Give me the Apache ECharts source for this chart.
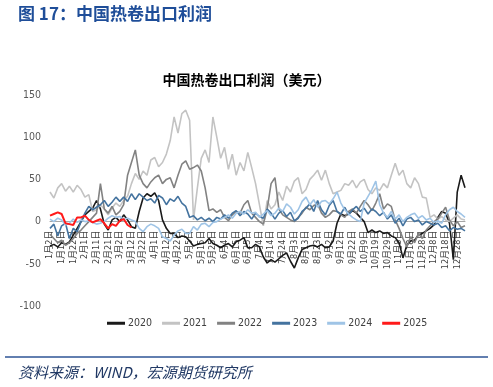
<!DOCTYPE html>
<html><head><meta charset="utf-8">
<script src="https://cdn.jsdelivr.net/npm/echarts@6/dist/echarts.min.js"></script>
<style>html,body{margin:0;padding:0;background:#fff}#c{width:493px;height:387px}</style>
</head><body><div id="c"></div>
<script>
const categories = [
"1月2日","1月5日","1月8日","1月11日","1月15日","1月18日","1月22日","1月25日","1月28日",
"2月1日","2月4日","2月8日","2月11日","2月14日","2月18日","2月21日","2月24日","2月27日",
"3月2日","3月5日","3月9日","3月12日","3月15日","3月19日","3月22日","3月25日","3月29日",
"4月1日","4月5日","4月8日","4月12日","4月15日","4月19日","4月22日","4月25日","4月29日",
"5月5日","5月8日","5月12日","5月15日","5月18日","5月22日","5月25日","5月28日","6月1日",
"6月4日","6月8日","6月11日","6月15日","6月18日","6月21日","6月25日","6月28日","7月1日",
"7月4日","7月7日","7月11日","7月14日","7月17日","7月21日","7月24日","7月27日","7月31日",
"8月3日","8月6日","8月10日","8月13日","8月16日","8月20日","8月23日","8月26日","8月30日",
"9月2日","9月5日","9月9日","9月12日","9月15日","9月19日","9月22日","9月26日","9月30日",
"10月9日","10月12日","10月16日","10月19日","10月22日","10月26日","10月29日","11月1日","11月5日",
"11月8日","11月11日","11月15日","11月18日","11月21日","11月25日","11月28日","12月1日","12月5日",
"12月8日","12月11日","12月15日","12月18日","12月21日","12月25日","12月28日","12月29日","12月31日"];

const y2020 = [-29,-27,-30,-25,-27,-24,-16,-8,0,8,12,16,25,15,-3,-10,2,5,0,8,2,-6,-8,12,28,33,30,34,25,2,-8,-14,-14,-19,-17,-18,-23,-29,-27,-26,-25,-20,-26,-28,-31,-28,-26,-30,-24,-22,-19,-31,-31,-27,-30,-42,-49,-45,-48,-44,-40,-37,-47,-55,-43,-33,-31,-29,-28,-30,-27,-31,-30,-23,-2,9,7,9,13,10,5,0,-13,-10,-13,-11,-14,-13,-17,-19,-25,-43,-28,-23,-22,-16,-14,-11,-8,-4,5,12,10,-2,-45,35,55,40];
const y2021 = [35,28,40,45,36,42,35,43,38,29,32,12,14,20,15,8,16,22,18,25,30,45,57,50,60,55,73,76,65,70,80,96,124,105,128,132,120,2,40,75,85,70,124,100,75,88,62,80,55,70,60,82,64,45,20,-5,25,15,20,35,25,42,35,48,52,33,38,50,55,61,49,61,45,33,35,37,45,43,49,40,47,50,38,33,40,37,45,40,55,69,55,61,45,40,52,45,29,28,5,8,3,6,2,0,4,8,3,2];
const y2022 = [-15,-20,-25,-22,-28,-25,-20,-14,-10,-5,0,5,10,45,15,10,18,8,12,20,55,70,85,55,45,40,47,52,55,45,50,52,40,55,68,72,62,64,67,60,40,13,15,11,14,5,1,8,12,10,20,25,10,5,0,-3,15,45,52,15,8,5,2,0,5,10,17,14,19,21,10,5,8,13,12,8,5,12,15,10,18,25,20,13,22,33,15,21,18,2,-8,-20,-30,-18,-25,-14,-20,-10,-5,0,3,10,17,2,-5,0,-7,-5];
const y2023 = [-8,-3,-17,-5,-2,-20,-8,-12,0,10,18,14,17,20,25,18,23,29,24,29,24,33,26,33,29,25,27,22,31,28,20,27,24,30,22,18,5,7,2,5,1,4,0,5,3,8,4,10,13,7,12,9,3,10,6,4,15,10,3,10,13,6,11,1,4,12,16,21,12,25,14,8,19,25,12,9,17,8,14,18,12,16,9,15,12,7,11,3,8,-2,4,-5,3,5,0,2,-4,0,-2,-4,-2,-7,-5,-11,-7,-9,-8,-11];
const y2024 = [3,0,4,2,-4,-2,3,-1,2,0,1,-1,-3,-2,0,4,7,5,6,3,4,2,0,-8,-12,-6,-3,-5,-8,-18,-20,-23,-16,-11,-9,-14,-14,-6,-10,-3,-2,-6,-1,0,3,5,8,4,10,12,9,14,10,11,5,9,13,7,10,16,12,21,17,9,14,24,29,20,26,17,24,25,21,27,35,22,14,9,5,2,0,22,30,38,48,20,10,5,12,3,8,0,5,8,10,4,7,2,4,-1,1,-2,8,14,17,12,9,5];
const y2025 = [7,9,11,9,-2,-3,-4,5,5,7,2,-1,1,3,-2,-8,-3,-5,1,3,-4,-7];

const seriesNames = ["2020","2021","2022","2023","2024","2025"];
const yTicks = {min:-100, max:150, step:50};

const chart = echarts.init(document.getElementById('c'), null, {renderer:'canvas'});
const colors = ['#1a1a1a','#c3c3c3','#828282','#44739f','#9fc4e6','#ff1a1a'];
const dataSets = [y2020,y2021,y2022,y2023,y2024,y2025];
const narrow = "'Liberation Sans Narrow','DejaVu Sans Condensed','Noto Sans CJK SC',sans-serif";

const gridTop = 95, gridBottom = 81, H = 387;
const plotH = H - gridTop - gridBottom;
// distance from bottom of grid up to the zero line, derived from the axis range
const zeroOffset = plotH * (0 - yTicks.min) / (yTicks.max - yTicks.min);

chart.setOption({
  animation:false,
  backgroundColor:'#fff',
  color: colors,
  title:{text:'中国热卷出口利润（美元）', left:'center', top:68,
    textStyle:{fontSize:14, fontWeight:'bold', color:'#000', fontFamily:"'Noto Sans CJK SC',sans-serif"}},
  graphic:[
    {type:'text', left:18, top:5, style:{text:'图 17：中国热卷出口利润', fill:'#1f4e99',
      font:"bold 17px 'Noto Sans CJK SC', sans-serif"}},
    {type:'line', shape:{x1:5,y1:357,x2:488,y2:357}, style:{stroke:'#2e5496', lineWidth:1.5}},
    {type:'text', left:18, top:365, style:{text:'资料来源：WIND，宏源期货研究所', fill:'#203864',
      font:"italic 15px 'Noto Sans CJK SC', serif"}}
  ],
  legend:{data:seriesNames, top:313, left:102, icon:'rect', itemWidth:18, itemHeight:3, itemGap:10,
    textStyle:{fontSize:10.5, color:'#404040', fontFamily:narrow, padding:[0,0,0,-2]}},
  grid:{left:50, right:28, top:gridTop, bottom:gridBottom},
  xAxis:{type:'category', data:categories, boundaryGap:false, position:'bottom', offset:-zeroOffset,
    axisLine:{onZero:false, lineStyle:{color:'#a6a6a6', width:1}},
    axisTick:{show:false},
    axisLabel:{interval:2, rotate:90, fontSize:9, color:'#404040', margin:9, fontFamily:narrow},
    splitLine:{show:false}},
  yAxis:{type:'value', min:yTicks.min, max:yTicks.max, interval:yTicks.step,
    axisLine:{show:false}, axisTick:{show:false}, splitLine:{show:false},
    axisLabel:{fontSize:10.5, color:'#595959', margin:9, fontFamily:narrow}},
  series: seriesNames.map((n,i)=>({name:n, type:'line', data:dataSets[i], symbol:'none', z: 3,
    lineStyle:{width: i===5?2:1.6, color:colors[i]}, itemStyle:{color:colors[i]}}))
});
</script></body></html>
